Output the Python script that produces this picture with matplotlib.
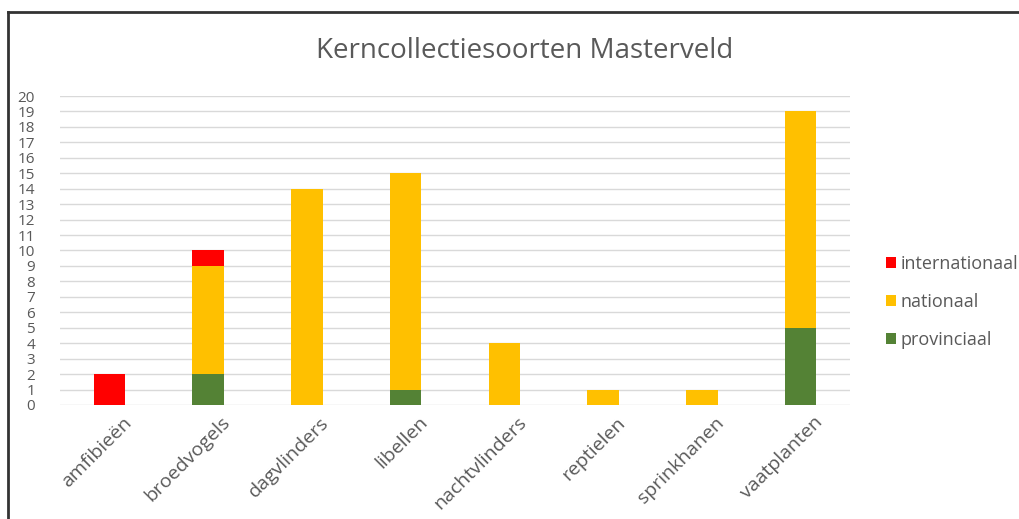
import matplotlib.pyplot as plt
import matplotlib.transforms as mtransforms
from matplotlib.lines import Line2D
import numpy as np

plt.rcParams['font.family'] = ['Open Sans', 'DejaVu Sans']

categories = ['amfibieën', 'broedvogels', 'dagvlinders', 'libellen',
              'nachtvlinders', 'reptielen', 'sprinkhanen', 'vaatplanten']
provinciaal = [0, 2, 0, 1, 0, 0, 0, 5]
nationaal = [0, 7, 14, 14, 4, 1, 1, 14]
internationaal = [2, 1, 0, 0, 0, 0, 0, 0]
yticks = list(range(0, 21))

text_col = '#595959'
fig = plt.figure(figsize=(10.19, 5.19), dpi=100)
ax = fig.add_axes([0.059, 0.2197, 0.775, 0.5953])

x = np.arange(len(categories))
w = 0.32
prov = np.array(provinciaal)
nat = np.array(nationaal)
intl = np.array(internationaal)
b1 = ax.bar(x, prov, w, color='#548235', label='provinciaal', zorder=3)
b2 = ax.bar(x, nat, w, bottom=prov, color='#FFC000', label='nationaal', zorder=3)
b3 = ax.bar(x, intl, w, bottom=prov + nat, color='#FF0000', label='internationaal', zorder=3)

ax.set_xlim(-0.5, len(categories) - 0.5)
ax.set_ylim(0, 20)
ax.set_yticks(yticks)
ax.set_yticklabels([str(v) for v in yticks], fontsize=11, color=text_col)
ax.yaxis.grid(True, color='#d9d9d9', linewidth=1)
ax.set_axisbelow(True)
for s in ax.spines.values():
    s.set_visible(False)
ax.tick_params(axis='both', length=0)
ax.tick_params(axis='y', pad=18)
ax.tick_params(axis='x', pad=6)
ax.set_xticks(x)
ax.set_xticklabels(categories, rotation=45, ha='right', rotation_mode='anchor',
                   fontsize=14, color=text_col)
shift = mtransforms.ScaledTranslation(0.13, 0, fig.dpi_scale_trans)
for lab in ax.get_xticklabels():
    lab.set_transform(lab.get_transform() + shift)

fig.text(0.515, 0.902, 'Kerncollectiesoorten Masterveld', ha='center', va='center',
         fontsize=20, color=text_col)

leg = fig.legend(handles=[b3, b2, b1], loc='center left', bbox_to_anchor=(0.862, 0.418),
                 frameon=False, fontsize=13, handlelength=0.55, handleheight=0.55,
                 handletextpad=0.3, labelspacing=1.1, borderaxespad=0)
for t in leg.get_texts():
    t.set_color(text_col)

# outer frame (left and top edges visible)
fig.add_artist(Line2D([0.0075, 0.0075], [0, 0.976], color='#333333', lw=2, transform=fig.transFigure))
fig.add_artist(Line2D([0.0075, 1.0], [0.976, 0.976], color='#333333', lw=2, transform=fig.transFigure))

fig.savefig('out.png', dpi=100)
